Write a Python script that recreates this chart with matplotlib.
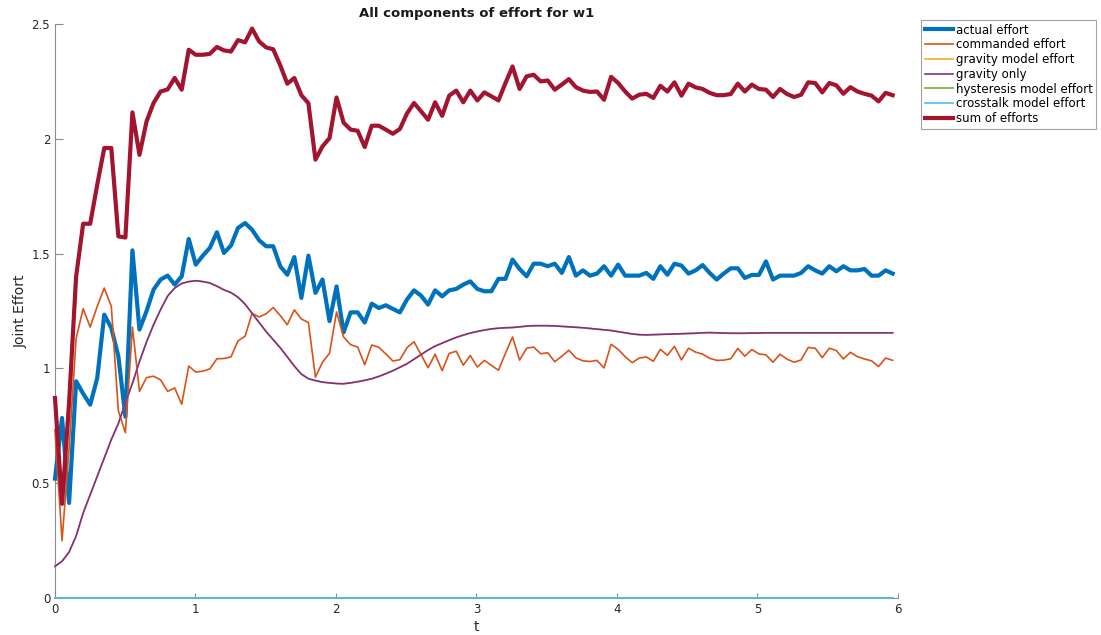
import numpy as np
import matplotlib
matplotlib.use('Agg')
import matplotlib.pyplot as plt

# joint w1, sampled every ~0.05 s
dt = 0.0501
n_samples = 120

actual_effort = [
    0.52, 0.784, 0.414, 0.944, 0.89, 0.842, 0.958, 1.234, 1.176, 1.053,
    0.79, 1.514, 1.169, 1.249, 1.343, 1.387, 1.404, 1.365, 1.401, 1.564,
    1.452, 1.491, 1.525, 1.593, 1.503, 1.535, 1.612, 1.633, 1.604, 1.558,
    1.532, 1.532, 1.445, 1.408, 1.485, 1.307, 1.491, 1.329, 1.387, 1.206,
    1.357, 1.157, 1.244, 1.244, 1.20, 1.282, 1.263, 1.275, 1.259, 1.244,
    1.30, 1.34, 1.317, 1.278, 1.34, 1.314, 1.34, 1.346, 1.365, 1.379,
    1.346, 1.336, 1.336, 1.39, 1.39, 1.474, 1.433, 1.401, 1.456, 1.456,
    1.445, 1.456, 1.416, 1.485, 1.404, 1.427, 1.404, 1.413, 1.445, 1.404,
    1.452, 1.404, 1.404, 1.404, 1.416, 1.39, 1.445, 1.408, 1.456, 1.448,
    1.413, 1.427, 1.45, 1.416, 1.387, 1.413, 1.436, 1.436, 1.394, 1.407,
    1.407, 1.466, 1.387, 1.404, 1.404, 1.404, 1.416, 1.445, 1.427, 1.413,
    1.445, 1.423, 1.445, 1.427, 1.427, 1.433, 1.404, 1.404, 1.427, 1.413,
]

commanded_effort = [
    0.733, 0.25, 0.65, 1.13, 1.26, 1.18, 1.27, 1.35, 1.27, 0.815,
    0.72, 1.18, 0.90, 0.96, 0.966, 0.95, 0.90, 0.915, 0.844, 1.01,
    0.984, 0.988, 0.998, 1.042, 1.043, 1.05, 1.12, 1.14, 1.24, 1.224,
    1.238, 1.265, 1.23, 1.19, 1.255, 1.215, 1.20, 0.962, 1.027, 1.066,
    1.246, 1.137, 1.103, 1.093, 1.016, 1.102, 1.092, 1.063, 1.032, 1.038,
    1.09, 1.116, 1.06, 1.003, 1.062, 0.99, 1.065, 1.075, 1.014, 1.056,
    1.006, 1.035, 1.013, 0.992, 1.066, 1.137, 1.036, 1.088, 1.093, 1.064,
    1.068, 1.029, 1.053, 1.079, 1.046, 1.033, 1.03, 1.035, 1.002, 1.105,
    1.083, 1.051, 1.025, 1.045, 1.05, 1.031, 1.083, 1.057, 1.096, 1.037,
    1.088, 1.071, 1.062, 1.044, 1.035, 1.036, 1.042, 1.087, 1.053, 1.082,
    1.063, 1.059, 1.027, 1.062, 1.04, 1.027, 1.037, 1.091, 1.088, 1.047,
    1.088, 1.078, 1.041, 1.07, 1.051, 1.041, 1.033, 1.008, 1.045, 1.035,
]

gravity_only = [
    0.138, 0.16, 0.20, 0.27, 0.37, 0.45, 0.53, 0.61, 0.69, 0.76,
    0.85, 0.935, 1.03, 1.115, 1.19, 1.256, 1.315, 1.35, 1.37, 1.378,
    1.382, 1.378, 1.372, 1.358, 1.342, 1.33, 1.31, 1.28, 1.24, 1.20,
    1.16, 1.125, 1.09, 1.05, 1.01, 0.975, 0.955, 0.947, 0.94, 0.937,
    0.934, 0.933, 0.937, 0.942, 0.948, 0.955, 0.965, 0.977, 0.99, 1.005,
    1.02, 1.04, 1.06, 1.08, 1.097, 1.11, 1.123, 1.135, 1.145, 1.154,
    1.161, 1.167, 1.172, 1.175, 1.177, 1.178, 1.181, 1.184, 1.186, 1.186,
    1.186, 1.185, 1.183, 1.181, 1.179, 1.177, 1.174, 1.171, 1.168, 1.165,
    1.16, 1.155, 1.15, 1.147, 1.146, 1.147, 1.148, 1.149, 1.15, 1.151,
    1.152, 1.153, 1.155, 1.156, 1.155, 1.154, 1.153, 1.153, 1.153, 1.154,
    1.154, 1.155, 1.155, 1.155, 1.155, 1.155, 1.155, 1.155, 1.155, 1.155,
    1.155, 1.155, 1.155, 1.155, 1.155, 1.155, 1.155, 1.155, 1.155, 1.155,
]

# gravity model reproduces gravity only; the other models give nothing here
gravity_model_effort = list(gravity_only)
hysteresis_effort = [0.0] * n_samples
crosstalk_effort = [0.0] * n_samples

t = np.arange(n_samples) * dt
sum_of_efforts = (np.array(commanded_effort) + np.array(gravity_model_effort)
                  + np.array(hysteresis_effort) + np.array(crosstalk_effort))

series = [
    ('actual effort', actual_effort, '#0072BD', 3.0),
    ('commanded effort', commanded_effort, '#D95319', 1.2),
    ('gravity model effort', gravity_model_effort, '#EDB120', 1.2),
    ('gravity only', gravity_only, '#7E2F8E', 1.2),
    ('hysteresis model effort', hysteresis_effort, '#77AC30', 1.2),
    ('crosstalk model effort', crosstalk_effort, '#4DBEEE', 1.2),
    ('sum of efforts', sum_of_efforts, '#A2142F', 3.0),
]

fig = plt.figure(figsize=(11.01, 6.35), dpi=100)
ax = fig.add_axes([55 / 1101, 1 - 598 / 635, 843 / 1101, 574 / 635])

for label, values, color, lw in series:
    ax.plot(t, values, color=color, linewidth=lw, label=label, clip_on=False, zorder=3)

ax.set_xlim(0, 6)
ax.set_ylim(0, 2.5)
ax.set_xticks(range(0, 7))
ax.set_yticks([0, 0.5, 1, 1.5, 2, 2.5])
ax.set_yticklabels(['0', '0.5', '1', '1.5', '2', '2.5'])

for side in ['top', 'right']:
    ax.spines[side].set_visible(False)
for side in ['left', 'bottom']:
    ax.spines[side].set_color('#8c8c8c')
    ax.spines[side].set_linewidth(0.8)

ax.tick_params(axis='both', direction='in', colors='#8c8c8c', labelcolor='#262626',
               labelsize=8.5, width=0.8)
ax.tick_params(axis='y', length=6)
ax.tick_params(axis='x', length=3.5)

ax.set_xlabel('t', fontsize=10, color='#262626', labelpad=3)
ax.set_ylabel('Joint Effort', fontsize=10, color='#262626', labelpad=3)
ax.set_title('All components of effort for w1', fontsize=9.5, fontweight='bold',
             color='#1a1a1a', pad=5)

leg = ax.legend(loc='upper left', bbox_to_anchor=(921 / 1101, 1 - 20 / 635),
                bbox_transform=fig.transFigure, borderaxespad=0, fontsize=8.5,
                frameon=True, fancybox=False, handlelength=2.4, handletextpad=0.25,
                labelspacing=0.15, borderpad=0.3)
leg.get_frame().set_edgecolor('#8c8c8c')
leg.get_frame().set_linewidth(0.8)

fig.savefig('out.png', dpi=100)
